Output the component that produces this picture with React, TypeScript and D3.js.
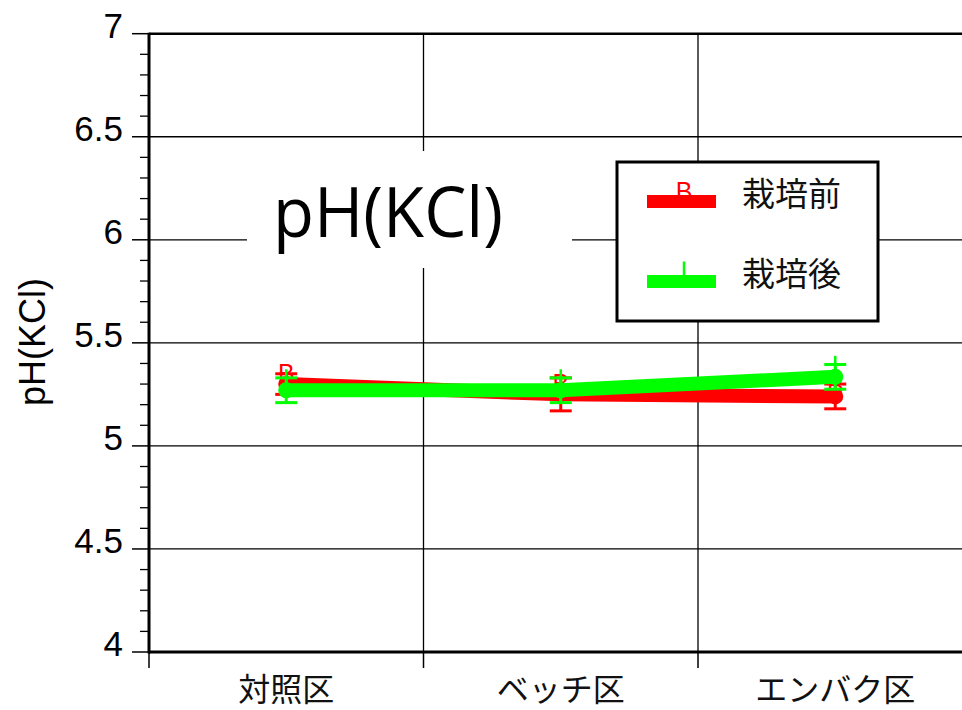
import React from "react";
import * as d3 from "d3";

// Soil pH(KCl) before and after cultivation, by plot treatment
const categories = ["対照区", "ベッチ区", "エンバク区"];
const beforeValues = [5.3, 5.25, 5.24];
const beforeErrors = [0.05, 0.08, 0.06];
const afterValues = [5.27, 5.27, 5.335];
const afterErrors = [0.06, 0.06, 0.06];
const yMajorTicks = [4, 4.5, 5, 5.5, 6, 6.5, 7];
const yTickLabels = ["4", "4.5", "5", "5.5", "6", "6.5", "7"];
const seriesNames = ["栽培前", "栽培後"];
const titleText = "pH(KCl)";
const yAxisLabel = "pH(KCl)";

const W = 962;
const H = 710;
const left = 149;
const bandW = 274.5;
const top = 33.7;
const bottom = 652;

const latin = "'Liberation Sans', Arial, sans-serif";
const cjk = "'Noto Sans CJK JP', 'Noto Sans', sans-serif";

export default function App() {
  const x = d3
    .scaleBand<string>()
    .domain(categories)
    .range([left, left + bandW * categories.length])
    .padding(0);
  const y = d3.scaleLinear().domain([4, 7]).range([bottom, top]);
  const minorTicks = d3.range(40, 71).map((v) => v / 10).filter((v) => Math.abs(v * 2 - Math.round(v * 2)) > 1e-6);
  const cx = (c: string) => (x(c) as number) + x.bandwidth() / 2;
  const line = d3
    .line<number>()
    .x((_, i) => cx(categories[i]))
    .y((v) => y(v));

  const series = [
    { name: seriesNames[0], color: "#ff0000", values: beforeValues, errors: beforeErrors, glyph: "B" },
    { name: seriesNames[1], color: "#00ff00", values: afterValues, errors: afterErrors, glyph: "|" },
  ];

  const right = left + bandW * categories.length;
  const bandEdges = categories.map((c) => x(c) as number);

  return (
    <svg width={W} height={H} style={{ position: "absolute", left: 0, top: 0, background: "#fff" }}>
      <rect x={0} y={0} width={W} height={H} fill="#fff" />
      {/* horizontal grid */}
      {yMajorTicks.slice(1, -1).map((v) => (
        <line key={"hg" + v} x1={left} x2={right} y1={y(v)} y2={y(v)} stroke="#000" strokeWidth={1.3} />
      ))}
      {/* vertical grid at category boundaries */}
      {bandEdges.slice(1).map((e) => (
        <line key={"vg" + e} x1={e} x2={e} y1={top} y2={bottom} stroke="#000" strokeWidth={1.3} />
      ))}
      {/* title with white backing */}
      <rect x={247} y={151} width={325} height={117} fill="#fff" />
      <text x={273} y={237} fontFamily="'Open Sans', sans-serif" fontSize={70} textLength={230} lengthAdjust="spacingAndGlyphs" fill="#000">
        {titleText}
      </text>
      {/* frame */}
      <line x1={left} x2={right} y1={top} y2={top} stroke="#000" strokeWidth={2.5} />
      <line x1={left} x2={right} y1={bottom} y2={bottom} stroke="#000" strokeWidth={3} />
      <line x1={left} x2={left} y1={top - 1} y2={bottom + 1.5} stroke="#000" strokeWidth={3} />
      {/* y ticks */}
      {yMajorTicks.map((v, i) => (
        <g key={"yt" + v}>
          <line x1={132} x2={left} y1={y(v)} y2={y(v)} stroke="#000" strokeWidth={1.5} />
          <text x={123} y={y(v) + 4} textAnchor="end" fontFamily={latin} fontSize={35} fill="#000">
            {yTickLabels[i]}
          </text>
        </g>
      ))}
      {minorTicks.map((v) => (
        <line key={"ym" + v} x1={140} x2={left} y1={y(v)} y2={y(v)} stroke="#000" strokeWidth={1.3} />
      ))}
      {/* x ticks and labels */}
      {bandEdges.map((e) => (
        <line key={"xt" + e} x1={e} x2={e} y1={bottom} y2={bottom + 16} stroke="#000" strokeWidth={1.5} />
      ))}
      {categories.map((c) => (
        <text key={"xl" + c} x={cx(c)} y={701} textAnchor="middle" fontFamily={cjk} fontSize={32} fill="#111">
          {c}
        </text>
      ))}
      {/* y axis title */}
      <text
        transform={`translate(45,342) rotate(-90)`}
        textAnchor="middle"
        fontFamily={latin}
        fontSize={36}
        fill="#000"
      >
        {yAxisLabel}
      </text>
      {/* data series */}
      {series.map((s) => (
        <g key={s.name}>
          <path d={line(s.values) || ""} fill="none" stroke={s.color} strokeWidth={14} strokeLinejoin="round" />
          {s.values.map((v, i) => {
            const px = cx(categories[i]);
            const hi = y(v + s.errors[i]);
            const lo = y(v - s.errors[i]);
            return (
              <g key={i}>
                <line x1={px} x2={px} y1={hi} y2={lo} stroke={s.color} strokeWidth={3} />
                <line x1={px - 11} x2={px + 11} y1={hi} y2={hi} stroke={s.color} strokeWidth={3} />
                <line x1={px - 11} x2={px + 11} y1={lo} y2={lo} stroke={s.color} strokeWidth={3} />
                <circle cx={px} cy={y(v)} r={8} fill={s.color} />
                {s.glyph === "|" ? (
                  <line x1={px} x2={px} y1={y(v) - 21} y2={y(v)} stroke={s.color} strokeWidth={2.5} />
                ) : (
                  <text x={px} y={y(v) - 2} textAnchor="middle" fontFamily={latin} fontSize={25} fill={s.color}>
                    {s.glyph}
                  </text>
                )}
              </g>
            );
          })}
        </g>
      ))}
      {/* legend */}
      <rect x={617} y={162} width={261} height={159} fill="#fff" stroke="#000" strokeWidth={3} />
      {series.map((s, i) => {
        const ly = 201.5 + i * 80;
        return (
          <g key={"lg" + s.name}>
            {s.glyph === "|" ? (
              <line x1={684} x2={684} y1={ly - 20} y2={ly} stroke={s.color} strokeWidth={2.5} />
            ) : (
              <text x={684} y={ly - 2} textAnchor="middle" fontFamily={latin} fontSize={25} fill={s.color}>
                {s.glyph}
              </text>
            )}
            <line x1={647} x2={716} y1={ly} y2={ly} stroke={s.color} strokeWidth={13} />
            <text x={742} y={ly + 4} fontFamily={cjk} fontSize={33} fill="#111">
              {s.name}
            </text>
          </g>
        );
      })}
    </svg>
  );
}
